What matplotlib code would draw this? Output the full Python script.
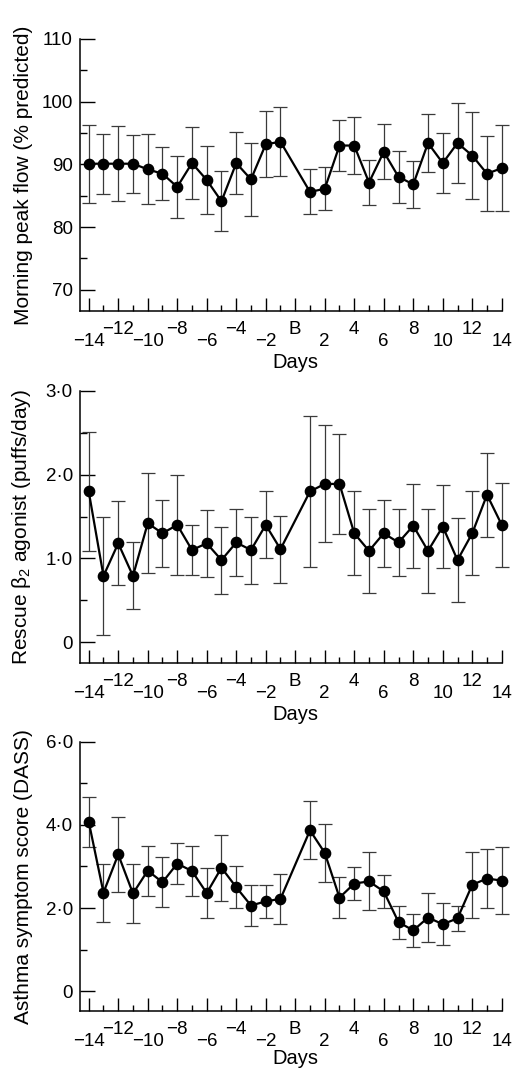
import numpy as np
import matplotlib
matplotlib.use("Agg")
import matplotlib.pyplot as plt
from matplotlib.ticker import FixedLocator

plt.rcParams['font.family'] = ['Liberation Sans', 'DejaVu Sans']
plt.rcParams['mathtext.fontset'] = 'custom'
plt.rcParams['mathtext.rm'] = 'Liberation Sans'

days = [-14, -13, -12, -11, -10, -9, -8, -7, -6, -5, -4, -3, -2, -1,
        1, 2, 3, 4, 5, 6, 7, 8, 9, 10, 11, 12, 13, 14]

peak_flow = [90.1, 90.1, 90.1, 90.1, 89.2, 88.5, 86.4, 90.2, 87.5, 84.1, 90.2, 87.6, 93.2, 93.6,
             85.6, 86.1, 93.0, 93.0, 87.1, 92.0, 88.0, 86.8, 93.4, 90.2, 93.4, 91.4, 88.5, 89.4]
peak_flow_err = [6.2, 4.8, 6.0, 4.6, 5.6, 4.2, 5.0, 5.7, 5.5, 4.8, 5.0, 5.8, 5.3, 5.5,
                 3.6, 3.4, 4.0, 4.5, 3.6, 4.4, 4.2, 3.8, 4.6, 4.8, 6.4, 7.0, 6.0, 6.8]

rescue = [1.80, 0.79, 1.18, 0.79, 1.42, 1.30, 1.40, 1.10, 1.18, 0.98, 1.19, 1.10, 1.40, 1.11,
          1.80, 1.89, 1.89, 1.30, 1.09, 1.30, 1.19, 1.39, 1.09, 1.38, 0.98, 1.30, 1.76, 1.40]
rescue_err = [0.71, 0.71, 0.50, 0.40, 0.60, 0.40, 0.60, 0.30, 0.40, 0.40, 0.40, 0.40, 0.40, 0.40,
              0.90, 0.70, 0.60, 0.50, 0.50, 0.40, 0.40, 0.50, 0.50, 0.50, 0.50, 0.50, 0.50, 0.50]

symptom = [4.08, 2.37, 3.29, 2.35, 2.90, 2.62, 3.07, 2.89, 2.36, 2.97, 2.50, 2.06, 2.16, 2.22,
           3.87, 3.33, 2.25, 2.59, 2.64, 2.40, 1.66, 1.46, 1.77, 1.61, 1.75, 2.56, 2.71, 2.66]
symptom_err = [0.60, 0.70, 0.90, 0.70, 0.60, 0.60, 0.50, 0.60, 0.60, 0.80, 0.50, 0.50, 0.40, 0.60,
               0.70, 0.70, 0.50, 0.40, 0.70, 0.40, 0.40, 0.40, 0.60, 0.50, 0.30, 0.80, 0.70, 0.80]

even_days = list(range(-14, 15, 2))
odd_days = list(range(-13, 14, 2))
day_labels = ["B" if d == 0 else str(d).replace("-", "\u2212") for d in even_days]

panels = [
    dict(y=peak_flow, err=peak_flow_err, ylabel="Morning peak flow (% predicted)",
         ylim=(66.6, 110), major=[70, 80, 90, 100, 110], minor=[75, 85, 95, 105],
         ticklabels=["70", "80", "90", "100", "110"], rect=[0.156, 0.7088, 0.824, 0.2547]),
    dict(y=rescue, err=rescue_err, ylabel="Rescue \u03b2$_\\mathregular{2}$ agonist (puffs/day)",
         ylim=(-0.25, 3.0), major=[0, 1, 2, 3], minor=[0.5, 1.5, 2.5],
         ticklabels=["0", "1\u00b70", "2\u00b70", "3\u00b70"], rect=[0.156, 0.3792, 0.824, 0.2547]),
    dict(y=symptom, err=symptom_err, ylabel="Asthma symptom score (DASS)",
         ylim=(-0.48, 6.0), major=[0, 2, 4, 6], minor=[1, 3, 5],
         ticklabels=["0", "2\u00b70", "4\u00b70", "6\u00b70"], rect=[0.156, 0.0534, 0.824, 0.2519]),
]

fig = plt.figure(figsize=(5.12, 10.68), dpi=100)

for k, p in enumerate(panels):
    ax = fig.add_axes(p["rect"])
    ax.errorbar(days, p["y"], yerr=p["err"], fmt="none", ecolor="#3a3a3a",
                elinewidth=0.9, capsize=4.7, capthick=0.9, clip_on=False, zorder=2)
    ax.plot(days, p["y"], color="black", lw=1.6, marker="o", markersize=7.4,
             clip_on=False, zorder=3)

    ax.set_xlim(-14.6, 14)
    ax.set_ylim(*p["ylim"])
    ax.spines["top"].set_visible(False)
    ax.spines["right"].set_visible(False)
    for s in ("left", "bottom"):
        ax.spines[s].set_linewidth(1.1)

    ax.yaxis.set_major_locator(FixedLocator(p["major"]))
    ax.yaxis.set_minor_locator(FixedLocator(p["minor"]))
    ax.set_yticklabels(p["ticklabels"])
    ax.xaxis.set_major_locator(FixedLocator(even_days))
    ax.xaxis.set_minor_locator(FixedLocator(odd_days))
    ax.set_xticklabels([])
    ax.tick_params(axis="y", which="major", direction="in", length=10.5, width=1.0,
                   pad=5, labelsize=13.5)
    ax.tick_params(axis="y", which="minor", direction="in", length=5, width=1.0)
    ax.tick_params(axis="x", which="major", direction="in", length=9.5, width=1.0)
    ax.tick_params(axis="x", which="minor", direction="in", length=4.5, width=1.0)

    # staggered day labels
    for i, (d, lab) in enumerate(zip(even_days, day_labels)):
        dy = -10 if i % 2 else -22
        ax.annotate(lab, xy=(d, 0), xycoords=("data", "axes fraction"),
                    xytext=(0, dy), textcoords="offset pixels",
                    ha="center", va="top", fontsize=13.5)
    days_dy = -42 if k < 2 else -38
    ax.annotate("Days", xy=(0, 0), xycoords=("data", "axes fraction"),
                xytext=(0, days_dy), textcoords="offset pixels",
                ha="center", va="top", fontsize=14.5)

    ax.set_ylabel(p["ylabel"], fontsize=15)
    ax.yaxis.set_label_coords(-0.111, 0.5)

fig.savefig("out.png", dpi=100)
